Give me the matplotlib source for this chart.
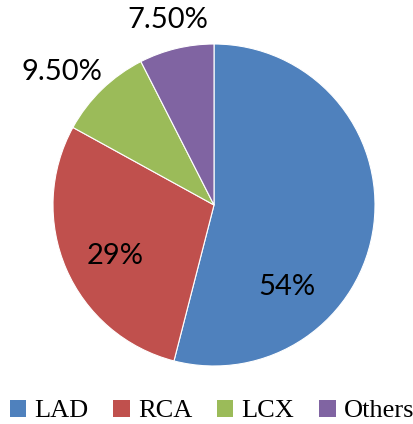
import matplotlib.pyplot as plt
from matplotlib.patches import Patch

vessels = ["LAD", "RCA", "LCX", "Others"]
shares = [54, 29, 9.5, 7.5]
pct_labels = ["54%", "29%", "9.50%", "7.50%"]
colors = ["#4F81BD", "#C0504D", "#9BBB59", "#8064A2"]

# label positions in axes data units (pie radius = 1)
label_pos = [(0.453, -0.509), (-0.615, -0.317), (-0.944, 0.826), (-0.286, 1.149)]

fig = plt.figure(figsize=(4.14, 4.24), dpi=100)
ax = fig.add_axes([53 / 414, (424 - 205 - 161) / 424, 322 / 414, 322 / 424])

ax.pie(
    shares,
    colors=colors,
    startangle=90,
    counterclock=False,
    radius=1,
    wedgeprops={"edgecolor": "white", "linewidth": 0.8},
)
ax.set_xlim(-1, 1)
ax.set_ylim(-1, 1)
ax.set_aspect("equal")
ax.axis("off")

for text, (x, y) in zip(pct_labels, label_pos):
    ax.text(x, y, text, ha="center", va="center", fontsize=21,
            family="Lato", clip_on=False)

handles = [Patch(facecolor=c, edgecolor="none") for c in colors]
fig.legend(
    handles,
    vessels,
    loc="center",
    bbox_to_anchor=(0.512, (424 - 411) / 424),
    ncol=4,
    frameon=False,
    prop={"family": "Liberation Serif", "size": 19},
    handlelength=0.62,
    handleheight=0.62,
    handletextpad=0.3,
    columnspacing=0.95,
    borderaxespad=0,
)

fig.savefig("out.png", dpi=100)
